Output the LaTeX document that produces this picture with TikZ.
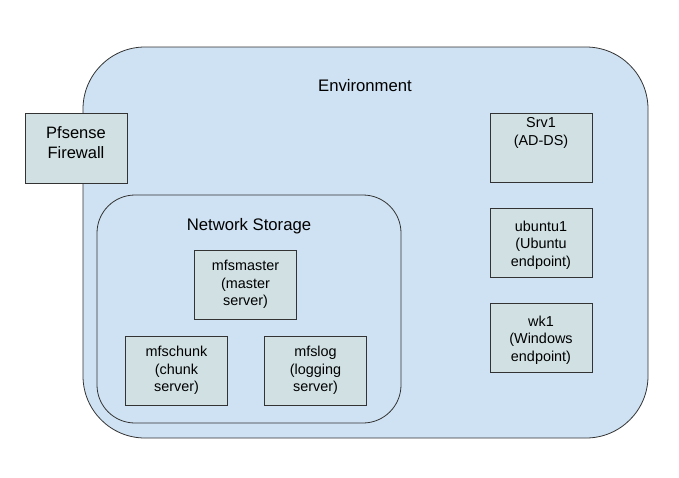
\documentclass[tikz,border=0pt]{standalone}
\usepackage{fontspec}
\setmainfont{Liberation Sans}
\definecolor{envfill}{HTML}{CFE2F3}
\definecolor{boxfill}{HTML}{D0E0E3}
\definecolor{edge}{HTML}{333333}
\begin{document}
\begin{tikzpicture}[x=1pt,y=-1pt,
  box/.style={draw=edge,fill=boxfill,line width=0.8pt,minimum width=102pt,minimum height=69pt,inner sep=0pt},
  txt/.style={align=center,font=\fontsize{14.4}{17.5}\selectfont,inner sep=0pt},
  head/.style={font=\fontsize{16.7}{20}\selectfont,inner sep=0pt},
  cont/.style={draw=edge,fill=envfill,line width=0.8pt}]
\useasboundingbox (0,0) rectangle (679,477);
\fill[white] (0,0) rectangle (679,477);
% Environment container
\draw[cont,rounded corners=62pt] (83,47) rectangle (648,438);
\node[head] (envlbl) at (365,86) {Environment};
% Pfsense
\node[box,minimum height=70pt] (pf) at (76,148) {};
\node[align=center,font=\fontsize{16.5}{20}\selectfont,inner sep=0pt] (pftxt) at (76,143) {Pfsense\\Firewall};
% Network storage
\draw[cont,rounded corners=38pt] (97,195) rectangle (401,423);
\node[head] (nslbl) at (249,226) {Network Storage};
\node[box] (master) at (245.5,284.5) {};
\node[txt] (mastertxt) at (master.center) {mfsmaster\\(master\\server)};
\node[box] (chunk) at (176.5,370.5) {};
\node[txt] (chunktxt) at (chunk.center) {mfschunk\\(chunk\\server)};
\node[box] (log) at (315.5,370.5) {};
\node[txt] (logtxt) at (log.center) {mfslog\\(logging\\server)};
% Right column
\node[box] (srv) at (541,147.5) {};
\node[txt] (srvtxt) at (541,133) {Srv1\\(AD-DS)};
\node[box] (ubu) at (541,242.5) {};
\node[txt] (ubutxt) at (541,245) {ubuntu1\\(Ubuntu\\endpoint)};
\node[box] (wk) at (541,337.5) {};
\node[txt] (wktxt) at (541,340) {wk1\\(Windows\\endpoint)};
\end{tikzpicture}
\end{document}
